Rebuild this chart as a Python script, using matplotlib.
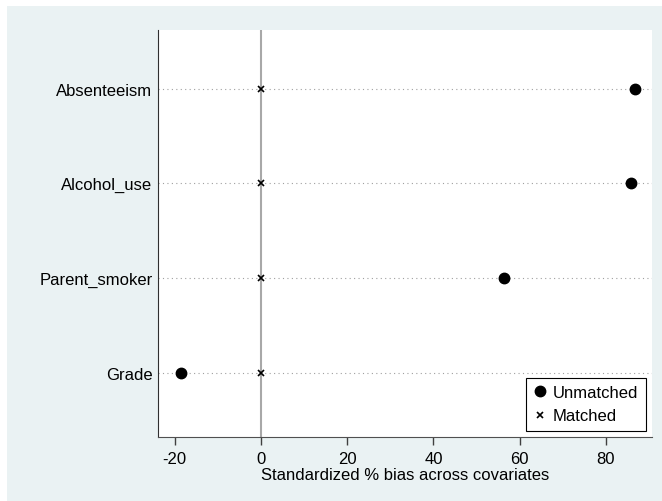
import numpy as np
import matplotlib
matplotlib.use("Agg")
import matplotlib.pyplot as plt
from matplotlib.patches import Rectangle

# covariates, bottom to top
covariates = ["Grade", "Parent_smoker", "Alcohol_use", "Absenteeism"]
unmatched = [-18.6, 56.4, 85.8, 86.8]
matched = [0.1, 0.1, 0.1, 0.1]
xticks = [-20, 0, 20, 40, 60, 80]

plt.rcParams['font.family'] = ['Liberation Sans', 'DejaVu Sans']

fig = plt.figure(figsize=(6.62, 5.02), dpi=100, facecolor='white')
bg = '#eaf2f3'
fig.patches.append(Rectangle((7/662, 0), 1, 1 - 7/502, transform=fig.transFigure,
                             facecolor=bg, edgecolor='none', zorder=-10))

ax = fig.add_axes([158/662, (502-438)/502, (652-158)/662, (438-31)/502])
ax.set_facecolor('white')

ypos = np.arange(1, len(covariates) + 1)
for y in ypos:
    ax.axhline(y, color='#a0a0a0', linestyle=(0, (1, 3)), linewidth=0.8, zorder=1)
ax.axvline(0, color='#a8a8a8', linewidth=1.5, zorder=1)

ax.plot(unmatched, ypos, 'o', color='black', markersize=7.5, linestyle='none',
        label='Unmatched', zorder=3)
ax.plot(matched, ypos, 'x', color='black', markersize=4.5, markeredgewidth=1.2,
        linestyle='none', label='Matched', zorder=3)

ax.set_xlim(-23.9, 90.7)
ax.set_ylim(0.32, 4.62)
ax.set_yticks(ypos)
ax.set_yticklabels(covariates, fontsize=12)
ax.set_xticks(xticks)
ax.set_xticklabels([str(t) for t in xticks], fontsize=12)
ax.tick_params(axis='y', length=0, pad=4)
ax.tick_params(axis='x', length=6, width=1, color='#404040', pad=4)

for s in ['top', 'right']:
    ax.spines[s].set_visible(False)
ax.spines['left'].set_color('#303030')
ax.spines['bottom'].set_color('#505050')

ax.set_xlabel('Standardized % bias across covariates', fontsize=12, labelpad=1)

leg = ax.legend(loc='lower right', bbox_to_anchor=(1 - 6/494, 6/407), fancybox=False,
                edgecolor='black', fontsize=12, framealpha=1, borderaxespad=0,
                handletextpad=0.4, handlelength=0.8, borderpad=0.45, labelspacing=0.5)
leg.get_frame().set_linewidth(0.8)

fig.savefig('out.png', dpi=100, facecolor=fig.get_facecolor())
